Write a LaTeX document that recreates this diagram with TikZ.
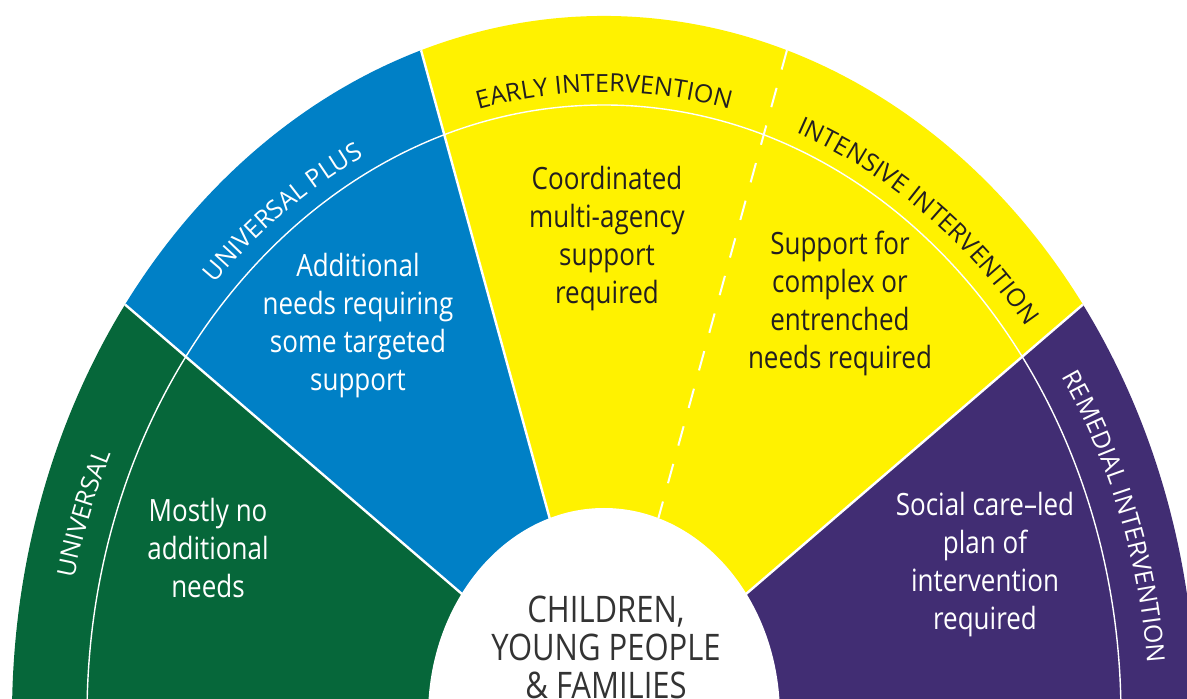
\documentclass[tikz,border=0pt]{standalone}
\usepackage{fontspec}
\usepackage{graphicx}
\setmainfont{Open Sans}
\usetikzlibrary{decorations.text}

\definecolor{univgreen}{HTML}{06673A}
\definecolor{plusblue}{HTML}{0080C6}
\definecolor{earlyyellow}{HTML}{FFF200}
\definecolor{remedialpurple}{HTML}{412D73}
\definecolor{inkdark}{HTML}{231F20}
\definecolor{hubgrey}{HTML}{333333}

\newcommand{\tallbox}[1]{\scalebox{1}[1.18]{\begin{tabular}{@{}c@{}}#1\end{tabular}}}
\newcommand{\bandfont}{\fontsize{25}{25}\selectfont}

\begin{document}
\begin{tikzpicture}[x=1pt,y=1pt]
			\tikzstyle{sep}=[white,line width=2.4pt]
			\tikzstyle{ringline}=[white,line width=1.4pt]
			\tikzstyle{splitdash}=[white,line width=2pt,dash pattern=on 20pt off 19pt]
			\tikzstyle{needs}=[inner sep=0pt,font=\fontsize{26}{32}\selectfont]
			\tikzstyle{band}=[decorate,decoration={text along path,text align=center,text color=#1}]
			\useasboundingbox (0,0) rectangle (1187,699);
			\clip (0,0) rectangle (1187,699);
			\coordinate (C) at (604,-17);

			% sectors
			\fill[univgreen] (C) -- ++(144:592 and 700) arc[start angle=144,end angle=216,x radius=592,y radius=700] -- cycle;
			\fill[plusblue] (C) -- ++(108:592 and 700) arc[start angle=108,end angle=144,x radius=592,y radius=700] -- cycle;
			\fill[earlyyellow] (C) -- ++(36:592 and 700) arc[start angle=36,end angle=108,x radius=592,y radius=700] -- cycle;
			\fill[remedialpurple] (C) -- ++(-36:592 and 700) arc[start angle=-36,end angle=36,x radius=592,y radius=700] -- cycle;

			% borders
			\coordinate (o36)  at ([shift={(C)}]36:592 and 700);
			\coordinate (o72)  at ([shift={(C)}]72:592 and 700);
			\coordinate (o108) at ([shift={(C)}]108:592 and 700);
			\coordinate (o144) at ([shift={(C)}]144:592 and 700);
			\coordinate (h72)  at ([shift={(C)}]72:176 and 208);
			\draw[sep] (C) -- (o36);
			\draw[sep] (C) -- (o108);
			\draw[sep] (C) -- (o144);
			\draw[splitdash] (o72) -- (h72);
			\draw[ringline] (C) ellipse[x radius=517,y radius=611];

			% hub
			\fill[white] (C) ellipse[x radius=176,y radius=208];

			% band labels
			\path[band=white,decoration={text={|\bandfont|UNIVERSAL}}] ([shift={(C)}]180:543 and 624) arc[start angle=180,end angle=142,x radius=543,y radius=624];
			\path[band=white,decoration={text={|\bandfont|UNIVERSAL PLUS}}] ([shift={(C)}]144:540 and 624) arc[start angle=144,end angle=108,x radius=540,y radius=624];
			\path[band=inkdark,decoration={text={|\bandfont|EARLY INTERVENTION}}] ([shift={(C)}]108:538 and 624) arc[start angle=108,end angle=72,x radius=538,y radius=624];
			\path[band=inkdark,decoration={text={|\bandfont|INTENSIVE INTERVENTION}}] ([shift={(C)}]72:540 and 624) arc[start angle=72,end angle=36,x radius=540,y radius=624];
			\path[band=white,decoration={text={|\bandfont|REMEDIAL INTERVENTION}}] ([shift={(C)}]38:545 and 624) arc[start angle=38,end angle=0,x radius=545,y radius=624];

			% needs
			\node[needs,text=white] (universal) at (208,147) {\tallbox{Mostly no\\additional\\needs}};
			\node[needs,text=white] (plus) at (358,373) {\tallbox{Additional\\needs requiring\\some targeted\\support}};
			\node[needs,text=inkdark] (early) at (607,460) {\tallbox{Coordinated\\multi-agency\\support\\required}};
			\node[needs,text=inkdark] (intensive) at (840,395) {\tallbox{Support for\\complex or\\entrenched\\needs required}};
			\node[needs,text=white] (remedial) at (985,134) {\tallbox{Social care–led\\plan of\\intervention\\required}};
			\node[inner sep=0pt,text=hubgrey,font=\fontsize{31}{32}\selectfont] (hub) at (606,46) {\tallbox{CHILDREN,\\YOUNG PEOPLE\\\& FAMILIES}};
\end{tikzpicture}
\end{document}
